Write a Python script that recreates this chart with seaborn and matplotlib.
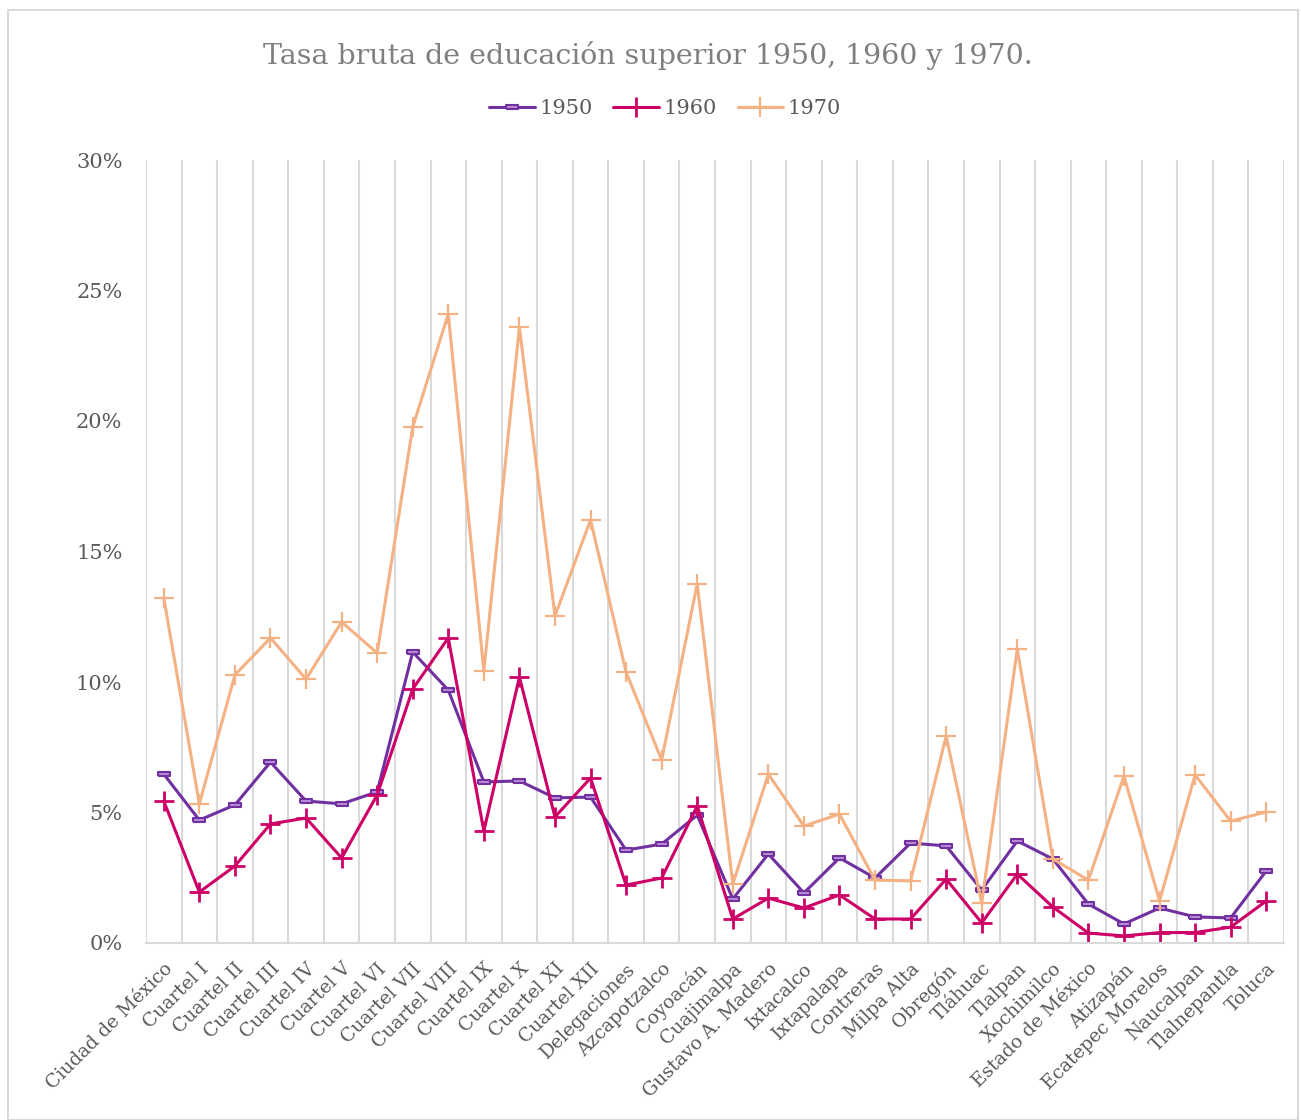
import matplotlib
matplotlib.use("Agg")
import matplotlib.pyplot as plt
import seaborn as sns
import pandas as pd
import numpy as np
from matplotlib.patches import Rectangle

categories = ["Ciudad de México", "Cuartel I", "Cuartel II", "Cuartel III", "Cuartel IV",
              "Cuartel V", "Cuartel VI", "Cuartel VII", "Cuartel VIII", "Cuartel IX",
              "Cuartel X", "Cuartel XI", "Cuartel XII", "Delegaciones", "Azcapotzalco",
              "Coyoacán", "Cuajimalpa", "Gustavo A. Madero", "Ixtacalco", "Ixtapalapa",
              "Contreras", "Milpa Alta", "Obregón", "Tláhuac", "Tlalpan", "Xochimilco",
              "Estado de México", "Atizapán", "Ecatepec Morelos", "Naucalpan",
              "Tlalnepantla", "Toluca"]

v1950 = [6.47, 4.71, 5.29, 6.93, 5.44, 5.33, 5.79, 11.15, 9.69, 6.17, 6.21, 5.56,
         5.59, 3.56, 3.79, 4.90, 1.69, 3.41, 1.92, 3.26, 2.49, 3.83, 3.72, 2.03,
         3.91, 3.22, 1.49, 0.73, 1.34, 1.00, 0.96, 2.76]
v1960 = [5.44, 1.95, 2.95, 4.56, 4.79, 3.26, 5.67, 9.73, 11.69, 4.29, 10.19, 4.83,
         6.32, 2.22, 2.49, 5.25, 0.92, 1.72, 1.34, 1.84, 0.92, 0.92, 2.45, 0.77,
         2.64, 1.38, 0.38, 0.27, 0.40, 0.40, 0.61, 1.61]
v1970 = [13.22, 5.33, 10.27, 11.69, 10.11, 12.30, 11.11, 19.77, 24.10, 10.42, 23.60,
         12.53, 16.21, 10.38, 7.01, 13.76, 2.26, 6.47, 4.48, 4.94, 2.41, 2.38, 7.93,
         1.53, 11.26, 3.22, 2.41, 6.40, 1.61, 6.44, 4.67, 5.02]

series_names = ["1950", "1960", "1970"]
y_ticks = [0, 5, 10, 15, 20, 25, 30]
title = "Tasa bruta de educación superior 1950, 1960 y 1970."

df = pd.DataFrame({
    "idx": list(range(len(categories))) * 3,
    "valor": v1950 + v1960 + v1970,
    "serie": [s for s in series_names for _ in categories],
})

sns.set_theme(style="white")
plt.rcParams["font.family"] = ["DejaVu Serif"]

fig = plt.figure(figsize=(13.01, 11.20), dpi=100)
ax = fig.add_axes([146/1301, 1-943/1120, (1284-146)/1301, (943-160)/1120])

colors = {"1950": "#7030A0", "1960": "#CC0066", "1970": "#F4B183"}
rect_marker = [(-1, -0.42), (1, -0.42), (1, 0.42), (-1, 0.42), (-1, -0.42)]
styles = {
    "1950": dict(marker=rect_marker, markersize=8, markerfacecolor="#b98fd6",
                 markeredgecolor="#7030A0", markeredgewidth=1.5),
    "1960": dict(marker="+", markersize=14, markeredgewidth=2.0,
                 markeredgecolor="#CC0066"),
    "1970": dict(marker="+", markersize=15, markeredgewidth=1.6,
                 markeredgecolor="#F4B183"),
}

for s in series_names:
    sub = df[df["serie"] == s]
    sns.lineplot(data=sub, x="idx", y="valor", ax=ax, color=colors[s], linewidth=2.2,
                 label=s, **styles[s])

ax.set_xlim(-0.5, len(categories) - 0.5)
ax.set_ylim(0, 30)
ax.set_yticks(y_ticks)
ax.set_yticklabels([f"{t}%" for t in y_ticks], fontsize=15, color="#595959")
ax.set_xticks(range(len(categories)))
ax.set_xticklabels(categories, rotation=45, ha="right", va="top",
                   rotation_mode="anchor", fontsize=13.5, color="#595959")
ax.tick_params(axis="x", length=0, pad=12)
ax.tick_params(axis="y", length=0, pad=17)
ax.set_xticks(np.arange(-0.5, len(categories) + 0.5, 1), minor=True)
ax.grid(which="minor", axis="x", color="#d9d9d9", linewidth=1.5)
ax.grid(which="major", axis="both", visible=False)
ax.set_xlabel("")
ax.set_ylabel("")
for sp in ["left", "right", "top"]:
    ax.spines[sp].set_visible(False)
ax.spines["bottom"].set_color("#d9d9d9")
ax.spines["bottom"].set_linewidth(1.5)

leg = ax.legend(loc="center", bbox_to_anchor=(665/1301, 1-109/1120),
                bbox_transform=fig.transFigure, ncol=3, frameon=False,
                fontsize=15, handlelength=2.2, columnspacing=1.0, handletextpad=0.2)
for t in leg.get_texts():
    t.set_color("#595959")

fig.text(648/1301, 1-55/1120, title, ha="center", va="center", fontsize=20.5,
         color="#7f7f7f")

fig.patches.append(Rectangle((8/1301, 0.0), 1290/1301, 1-10/1120, transform=fig.transFigure,
                             fill=False, edgecolor="#d9d9d9", linewidth=1.5))

fig.savefig("out.png", dpi=100)
